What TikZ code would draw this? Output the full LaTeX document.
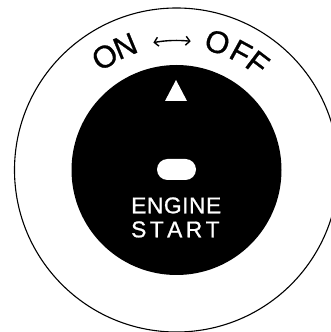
\documentclass[tikz,border=0pt]{standalone}
\usepackage{fontspec}
\setmainfont{Liberation Sans}
\newfontfamily\dialfont[FakeBold=0.8]{Liberation Sans}
\usetikzlibrary{arrows.meta}
\tikzset{
  ring/.style={draw=black, line width=1.1pt},
  disk/.style={fill=black},
  arcl/.style={inner sep=0pt, anchor=base, font=\dialfont\fontsize{31}{31}\selectfont},
  lbl/.style={inner sep=0pt, anchor=base, text=white, font=\dialfont\fontsize{22.8}{22.8}\selectfont},
  dirarrow/.style={line width=1.4pt, {Straight Barb[length=4pt,width=9pt]}-{Straight Barb[length=4pt,width=9pt]}}
}
\begin{document}
\begin{tikzpicture}[x=1pt,y=1pt]
\useasboundingbox (0,0) rectangle (331,332);
\coordinate (C) at (176.5,162);
% outer ring
\draw[ring] (C) circle (162pt);
% black knob
\fill[disk] (C) circle (105pt);
% curved text ON OFF
\path (C) ++(122.3:123.5pt) node[arcl, rotate=32.3] (o1) {O};
\path (C) ++(112.5:123.5pt) node[arcl, rotate=22.5] (n1) {N};
\path (C) ++(72.2:123.5pt) node[arcl, rotate=-17.8] (o2) {O};
\path (C) ++(61.3:123.5pt) node[arcl, rotate=-28.7] (f1) {F};
\path (C) ++(52.8:123.5pt) node[arcl, rotate=-37.2] (f2) {F};
% double arrow
\path (C) ++(100.3:129.5pt) coordinate (al);
\path (C) ++(83.7:129.5pt) coordinate (ar);
\draw[dirarrow] (al) arc[start angle=100.3, end angle=83.7, radius=129.5pt];
% triangle marker
\fill[white] (176,252) -- (165,231) -- (187,231) -- cycle;
% pill
\fill[white, rounded corners=10.5pt] (157,152) rectangle (196,173);
% labels
\node[lbl] (eng) at (176.2,118.7) {\makebox[90pt][s]{E\hfill N\hfill G\hfill I\hfill N\hfill E}};
\node[lbl] (sta) at (175.4,94.7) {\makebox[88.5pt][s]{S\hfill T\hfill A\hfill R\hfill T}};
\end{tikzpicture}
\end{document}
